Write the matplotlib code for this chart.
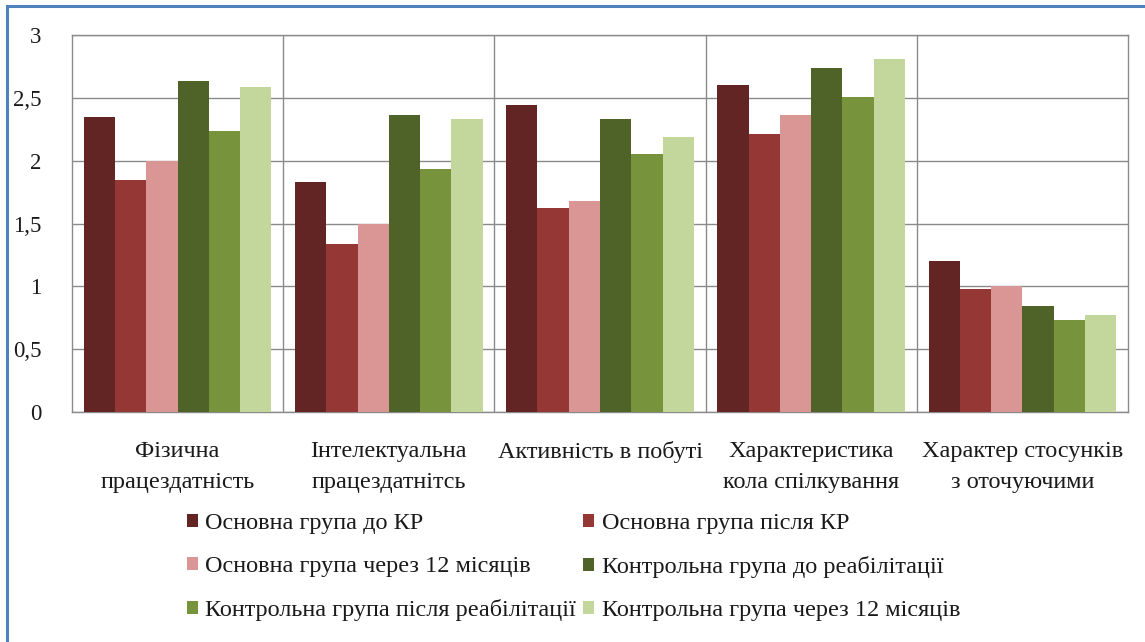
import numpy as np
import matplotlib
matplotlib.use("Agg")
import matplotlib.pyplot as plt
from matplotlib.lines import Line2D
from matplotlib.ticker import FuncFormatter

# --- Data ---
categories = [
    "Фізична\nпрацездатність",
    "Інтелектуальна\nпрацездатнітсь",
    "Активність в побуті",
    "Характеристика\nкола спілкування",
    "Характер стосунків\nз оточуючими",
]
series_names = [
    "Основна група до КР",
    "Основна група після КР",
    "Основна група через 12 місяців",
    "Контрольна група до реабілітації",
    "Контрольна група після реабілітації",
    "Контрольна група через 12 місяців",
]
main_before = [2.35, 1.83, 2.44, 2.60, 1.20]
main_after = [1.85, 1.34, 1.62, 2.21, 0.98]
main_12m = [2.00, 1.50, 1.68, 2.36, 1.00]
control_before = [2.63, 2.36, 2.33, 2.74, 0.84]
control_after = [2.24, 1.93, 2.05, 2.51, 0.73]
control_12m = [2.59, 2.33, 2.19, 2.81, 0.77]
series_values = [main_before, main_after, main_12m,
                 control_before, control_after, control_12m]

colors = ["#632523", "#953735", "#D99694", "#4F6228", "#77933C", "#C3D69B"]

# --- Figure ---
plt.rcParams['font.family'] = ['Liberation Serif', 'DejaVu Serif']
fig = plt.figure(figsize=(11.45, 6.42), dpi=100)
ax = fig.add_axes([72 / 1145, 1 - 412 / 642, (1128 - 72) / 1145, (412 - 35) / 642])

n_series = len(series_values)
gap = 0.75
bar_w = 1.0 / (n_series + gap)
x = np.arange(len(categories))
handles = []
for i, (vals, col) in enumerate(zip(series_values, colors)):
    offs = (i - (n_series - 1) / 2) * bar_w
    b = ax.bar(x + offs, vals, width=bar_w, color=col, label=series_names[i],
               zorder=3, linewidth=0)
    handles.append(b)

grid_col = "#8A8A8A"
ax.set_xlim(-0.5, len(categories) - 0.5)
ax.set_ylim(0, 3)
ax.set_yticks(np.arange(0, 3.01, 0.5))
ax.yaxis.set_major_formatter(FuncFormatter(
    lambda v, p: ("%g" % v).replace(".", ",")))
ax.grid(axis="y", color=grid_col, linewidth=1.0, zorder=0)

# category separators
for xs in np.arange(0.5, len(categories) - 0.5, 1):
    ax.axvline(xs, color=grid_col, linewidth=1.0, zorder=1)

ax.set_xticks(x)
ax.set_xticklabels(categories, fontsize=17.5, linespacing=1.62, color="#1a1a1a")
ax.tick_params(axis="x", length=0, pad=21)
ax.tick_params(axis="y", length=0, pad=22, labelsize=16.5, labelcolor="#1a1a1a")
for sp in ax.spines.values():
    sp.set_color(grid_col)
    sp.set_linewidth(1.0)

# legend: row-major order in two columns
order = [0, 2, 4, 1, 3, 5]
leg = fig.legend([handles[k] for k in order], [series_names[k] for k in order],
                 ncol=2, loc="upper left", bbox_to_anchor=(187 / 1145, 1 - 513 / 642),
                 frameon=False, fontsize=17.5, handlelength=0.45, handleheight=0.45,
                 handletextpad=0.3, columnspacing=0.3, labelspacing=0.9,
                 borderaxespad=0, borderpad=0)
for t in leg.get_texts():
    t.set_color("#1a1a1a")

# blue frame along the left and top edges
fig.add_artist(Line2D([7 / 1145, 7 / 1145], [0, 1 - 6 / 642],
                      transform=fig.transFigure, color="#4F81BD", linewidth=2.2))
fig.add_artist(Line2D([7 / 1145, 1], [1 - 6 / 642, 1 - 6 / 642],
                      transform=fig.transFigure, color="#4F81BD", linewidth=2.2))

fig.savefig("out.png", dpi=100)
